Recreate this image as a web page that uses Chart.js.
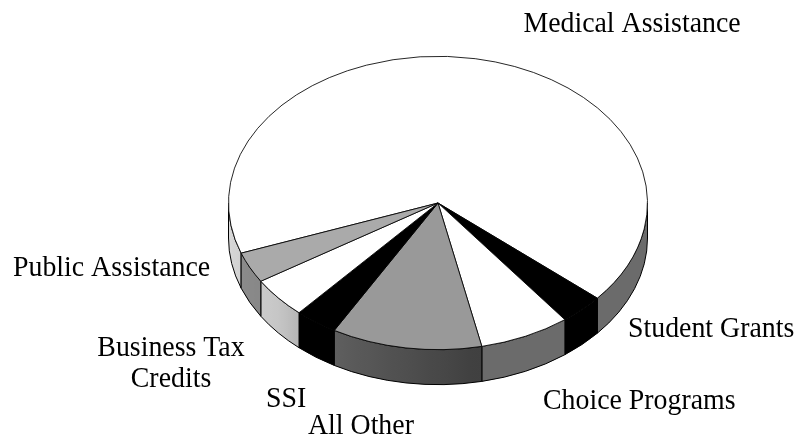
<!DOCTYPE html>
<html lang="en">
<head>
    <meta charset="UTF-8">
    <title>Pie</title>
    <script src="https://cdn.jsdelivr.net/npm/chart.js"></script>
    <style>
        body {
            margin: 0;
            padding: 0;
            background-color: #ffffff;
        }
        canvas {
            display: block;
        }
    </style>
</head>
<body>
    <canvas id="pieChart" width="796" height="441"></canvas>

    <script>
        // Slices, clockwise from Medical Assistance (percent of total)
        const categories = ['Medical Assistance', 'Student Grants', 'Choice Programs', 'All Other', 'SSI', 'Business Tax Credits', 'Public Assistance'];
        const values = [66.8, 3.4, 7.0, 11.6, 3.3, 4.5, 3.4];

        // styles
        const topColors = ['#ffffff', '#000000', '#ffffff', '#999999', '#000000', '#ffffff', '#aaaaaa'];

        // label text lines and where they sit
        const labelLines = [['Medical Assistance'], ['Student Grants'], ['Choice Programs'], ['All Other'], ['SSI'], ['Business Tax', 'Credits'], ['Public Assistance']];
        const labelPos = [[632, 32, 'center'], [628, 337, 'left'], [543, 409, 'left'], [308, 434, 'left'], [266, 407, 'left'], [171, 356, 'center'], [13, 276, 'left']];

        // 3d look
        const CX = 438, CY = 203, TILT = 0.7, DEPTH = 35;

        // how bright a side wall is at angle (deg, 0 = right, 90 = front)
        function shade(deg) {
            const pts = [[0, 0.42], [80, 0.42], [120, 0.62], [140, 0.78], [180, 0.86]];
            for (let i = 1; i < pts.length; i++) {
                if (deg <= pts[i][0]) {
                    const t = (deg - pts[i - 1][0]) / (pts[i][0] - pts[i - 1][0]);
                    return pts[i - 1][1] + t * (pts[i][1] - pts[i - 1][1]);
                }
            }
            return 0.86;
        }

        function grey(hex, f) {
            const v = Math.round(parseInt(hex.slice(1, 3), 16) * f);
            return 'rgb(' + v + ',' + v + ',' + v + ')';
        }

        const pie3d = {
            id: 'pie3d',
            beforeDatasetsDraw(chart) {
                const ctx = chart.ctx;
                const meta = chart.getDatasetMeta(0);
                const R = meta.data[0].outerRadius;
                const RY = R * TILT;

                // side walls, only the front half shows
                meta.data.forEach((arc, i) => {
                    const s = arc.startAngle, e = arc.endAngle;
                    for (let k = -1; k <= 2; k++) {
                        const a0 = Math.max(s, 2 * Math.PI * k);
                        const a1 = Math.min(e, 2 * Math.PI * k + Math.PI);
                        if (a1 <= a0) continue;
                        const xl = CX + R * Math.cos(a1), xr = CX + R * Math.cos(a0);
                        const g = ctx.createLinearGradient(xl, 0, xr, 0);
                        const n = 12;
                        for (let j = 0; j <= n; j++) {
                            const a = a1 - (a1 - a0) * j / n;
                            const x = CX + R * Math.cos(a);
                            const deg = ((a - 2 * Math.PI * k) * 180 / Math.PI);
                            const pos = xr > xl ? (x - xl) / (xr - xl) : 0;
                            g.addColorStop(Math.min(1, Math.max(0, pos)), grey(topColors[i], shade(deg)));
                        }
                        ctx.save();
                        ctx.beginPath();
                        ctx.ellipse(CX, CY, R, RY, 0, a0, a1);
                        ctx.ellipse(CX, CY + DEPTH, R, RY, 0, a1, a0, true);
                        ctx.closePath();
                        ctx.fillStyle = g;
                        ctx.fill();
                        ctx.lineWidth = 1;
                        ctx.strokeStyle = '#000000';
                        ctx.stroke();
                        ctx.restore();
                    }
                });

                // squash the top face
                const c = meta.data[0];
                ctx.save();
                ctx.translate(CX, CY);
                ctx.scale(1, TILT);
                ctx.translate(-c.x, -c.y);
            },
            afterDatasetsDraw(chart) {
                chart.ctx.restore();
            },
            afterDraw(chart) {
                const ctx = chart.ctx;
                ctx.save();
                ctx.fillStyle = '#000000';
                ctx.font = '29px "Liberation Serif", "Times New Roman", serif';
                ctx.textBaseline = 'alphabetic';
                labelLines.forEach((lines, i) => {
                    const [x, y, align] = labelPos[i];
                    ctx.textAlign = align;
                    lines.forEach((t, j) => {
                        ctx.save();
                        ctx.translate(x, y + j * 31);
                        ctx.scale(0.96, 1);
                        ctx.fillText(t, 0, 0);
                        ctx.restore();
                    });
                });
                ctx.restore();
            }
        };

        const ctx = document.getElementById('pieChart').getContext('2d');
        const pieChart = new Chart(ctx, {
            type: 'pie',
            data: {
                labels: categories,
                datasets: [{
                    data: values,
                    backgroundColor: topColors,
                    borderColor: '#000000',
                    borderWidth: 1,
                    clip: false
                }]
            },
            options: {
                responsive: false,
                animation: false,
                rotation: 250,
                layout: {
                    padding: { left: 228, right: 148, top: 10, bottom: 11 }
                },
                plugins: {
                    legend: { display: false },
                    tooltip: { enabled: false }
                }
            },
            plugins: [pie3d]
        });
    </script>
</body>
</html>
